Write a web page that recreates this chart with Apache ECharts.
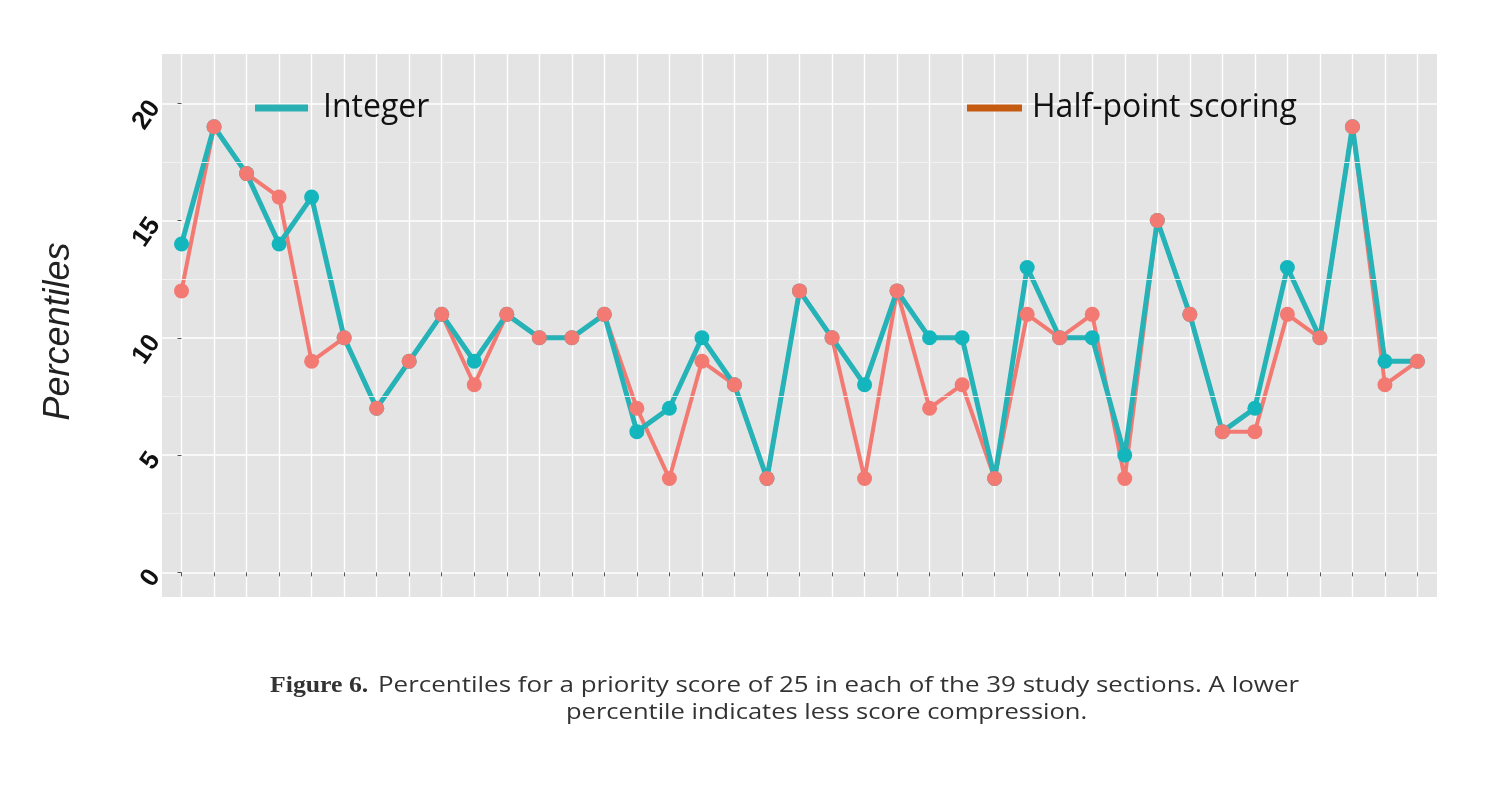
<!DOCTYPE html>
<html>
<head>
<meta charset="utf-8">
<script src="https://cdn.jsdelivr.net/npm/echarts@6/dist/echarts.min.js"></script>
<style>
html,body{margin:0;padding:0;background:#fff;}
#chart{width:1490px;height:787px;}
</style>
</head>
<body>
<div id="chart"></div>
<script>
// 39 study sections
const categories = ['1','2','3','4','5','6','7','8','9','10','11','12','13','14','15','16','17','18','19','20',
  '21','22','23','24','25','26','27','28','29','30','31','32','33','34','35','36','37','38','39'];
const integerValues = [14,19,17,14,16,10,7,9,11,9,11,10,10,11,6,7,10,8,4,12,10,8,12,10,10,4,13,10,10,5,15,11,6,7,13,10,19,9,9];
const halfPointValues = [12,19,17,16,9,10,7,9,11,8,11,10,10,11,7,4,9,8,4,12,10,4,12,7,8,4,11,10,11,4,15,11,6,6,11,10,19,8,9];
const yTickValues = [0,5,10,15,20];
const yMinorValues = [2.5,7.5,12.5,17.5];
const seriesNames = ['Integer','Half-point scoring'];
const yAxisTitle = 'Percentiles';
const captionBold = 'Figure 6.';
const captionLine1 = 'Percentiles for a priority score of 25 in each of the 39 study sections. A lower';
const captionLine2 = 'percentile indicates less score compression.';

const xIdx = categories.map((c,i)=>i);
const intData = integerValues.map((v,i)=>[i,v]);
const halfData = halfPointValues.map((v,i)=>[i,v]);

const TEAL = '#25b3b8';
const SALMON = '#f27a72';

const chart = echarts.init(document.getElementById('chart'), null, {renderer:'canvas'});
chart.setOption({
  backgroundColor:'#ffffff',
  animation:false,
  grid:{left:162,right:53,top:54,bottom:190,show:true,backgroundColor:'#e4e4e4',borderWidth:0},
  xAxis:{
    type:'value', min:-0.6, max:38.6,
    axisLine:{show:false},
    axisTick:{show:true,length:4,customValues:xIdx,lineStyle:{color:'#555',width:1}},
    axisLabel:{show:false,customValues:xIdx},
    splitLine:{show:true,lineStyle:{color:'#ffffff',width:1.4}}
  },
  yAxis:{
    type:'value', min:-1.05, max:22.1,
    name:yAxisTitle, nameLocation:'middle', nameGap:85,
    nameTextStyle:{fontFamily:'Liberation Sans',fontStyle:'italic',fontSize:36,color:'#222',padding:[0,12,0,0]},
    axisLine:{show:false},
    axisTick:{show:true,length:4,customValues:yTickValues,lineStyle:{color:'#555',width:1}},
    axisLabel:{customValues:yTickValues,rotate:55,fontFamily:'Liberation Sans',fontWeight:'bold',fontSize:26,color:'#111',margin:7},
    splitLine:{show:true,lineStyle:{color:'#ffffff',width:1.6}}
  },
  legend:[
    {left:250,top:87,itemWidth:53,itemHeight:7,icon:'rect',selectedMode:false,
     data:[{name:seriesNames[0],itemStyle:{color:'#2aafb3'}}],
     textStyle:{fontFamily:'Open Sans',fontSize:32,color:'#111',padding:[0,0,0,10]}},
    {left:962,top:87,itemWidth:55,itemHeight:7,icon:'rect',selectedMode:false,
     data:[{name:seriesNames[1],itemStyle:{color:'#c55a11'}}],
     textStyle:{fontFamily:'Open Sans',fontSize:32,color:'#111',padding:[0,0,0,5]}}
  ],
  series:[
    {type:'line',name:'minor',data:[],z:1,silent:true,
     markLine:{silent:true,symbol:'none',label:{show:false},
       lineStyle:{color:'#f2f2f2',width:0.9,type:'solid'},
       data:yMinorValues.map(v=>({yAxis:v}))}},
    {type:'line',name:seriesNames[1],data:halfData,z:3,showSymbol:false,symbol:'none',
     lineStyle:{color:SALMON,width:4},itemStyle:{color:SALMON}},
    {type:'line',name:seriesNames[0],data:intData,z:4,showSymbol:false,symbol:'none',
     lineStyle:{color:TEAL,width:5},itemStyle:{color:TEAL}},
    {type:'scatter',name:seriesNames[0],data:intData,z:5,symbolSize:15,itemStyle:{color:'#14b6bd',opacity:1}},
    {type:'scatter',name:seriesNames[1],data:halfData,z:6,symbolSize:15,itemStyle:{color:SALMON,opacity:1}}
  ],
  graphic:[
    {type:'text',x:270,y:686,scaleX:1.12,style:{x:0,y:0,text:captionBold,align:'left',verticalAlign:'middle',
      fontFamily:'Liberation Serif',fontWeight:'bold',fontSize:23,fill:'#333'}},
    {type:'text',x:378,y:686,scaleX:1.18,style:{x:0,y:0,text:captionLine1,align:'left',verticalAlign:'middle',
      fontFamily:'Open Sans',fontSize:22,fill:'#333'}},
    {type:'text',x:566,y:713,scaleX:1.16,style:{x:0,y:0,text:captionLine2,align:'left',verticalAlign:'middle',
      fontFamily:'Open Sans',fontSize:22,fill:'#333'}}
  ]
});
</script>
</body>
</html>
